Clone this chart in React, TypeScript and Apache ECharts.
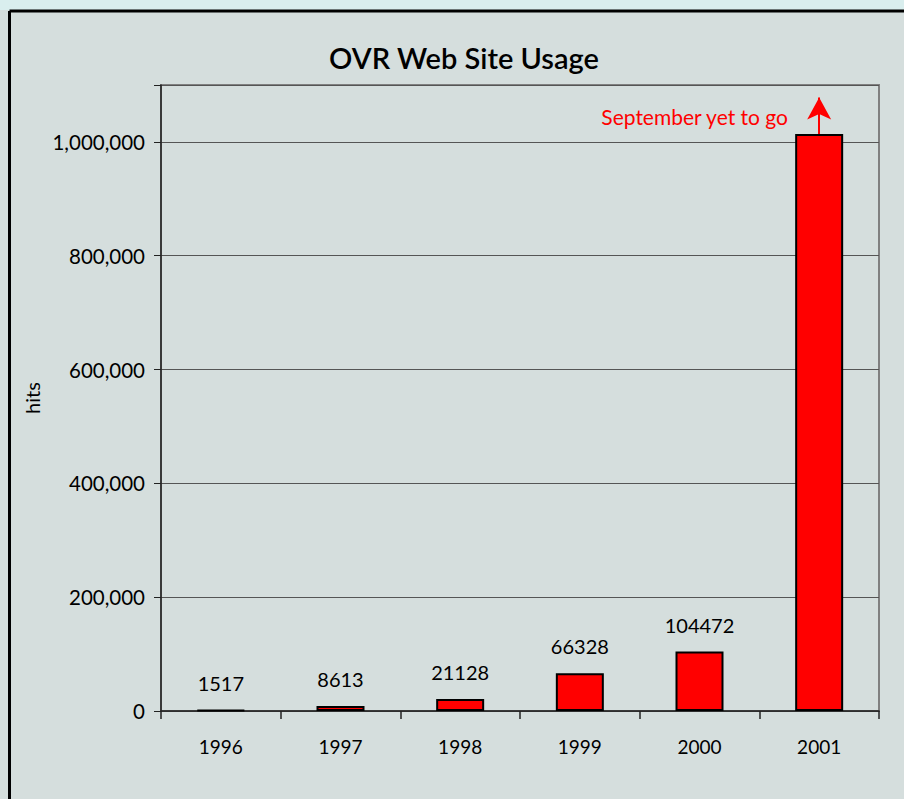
import React, { useEffect, useRef } from "react";
import * as echarts from "echarts";

const categories = ["1996", "1997", "1998", "1999", "2000", "2001"];
const hits = [1517, 8613, 21128, 66328, 104472, 1014000];
const showLabel = [true, true, true, true, true, false];
const yTicks = [0, 200000, 400000, 600000, 800000, 1000000];
const arrowTop = 1078000;
const FONT = "Lato, 'Open Sans', sans-serif";

export default function App() {
  const ref = useRef<HTMLDivElement>(null);
  useEffect(() => {
    const chart = echarts.init(ref.current!, null, { renderer: "svg" });
    chart.setOption({
      animation: false,
      backgroundColor: "#d5dedd",
      textStyle: { fontFamily: FONT },
      graphic: [
        { type: "rect", shape: { x: 0, y: 0, width: 904, height: 10 }, style: { fill: "#d9eeee" }, silent: true },
        { type: "line", shape: { x1: 9.5, y1: 11, x2: 904, y2: 11 }, style: { stroke: "#000", lineWidth: 3 } },
        { type: "line", shape: { x1: 9.5, y1: 11, x2: 9.5, y2: 799 }, style: { stroke: "#000", lineWidth: 3 } },
        {
          type: "text",
          x: 464,
          y: 57,
          style: { text: "OVR Web Site Usage", font: `600 29px ${FONT}`, fill: "#000", textAlign: "center", textVerticalAlign: "middle" },
        },
        {
          type: "text",
          x: 788,
          y: 116,
          style: { text: "September yet to go", font: `21px ${FONT}`, fill: "#ff0000", textAlign: "right", textVerticalAlign: "middle" },
        },
      ],
      grid: { left: 161, right: 25, top: 85, bottom: 88, show: true, borderColor: "#808080", borderWidth: 2 },
      xAxis: {
        type: "category",
        data: categories,
        axisLine: { lineStyle: { color: "#222", width: 1.5 } },
        axisTick: { show: true, length: 8, lineStyle: { color: "#222", width: 1.5 } },
        axisLabel: { fontSize: 19, color: "#000", margin: 26, fontFamily: FONT },
      },
      yAxis: {
        type: "value",
        min: 0,
        max: 1100000,
        interval: 200000,
        name: "hits",
        nameLocation: "middle",
        nameGap: 115,
        nameTextStyle: { fontSize: 20, color: "#000", fontFamily: FONT },
        axisLine: { show: true, lineStyle: { color: "#222", width: 1.5 } },
        axisTick: { show: true, length: 7, lineStyle: { color: "#222" } },
        splitLine: { show: true, lineStyle: { color: "#555", width: 1 } },
        axisLabel: {
          fontSize: 20.5,
          color: "#000",
          margin: 16,
          fontFamily: FONT,
          formatter: (v: number) => (yTicks.includes(v) ? v.toLocaleString("en-US") : ""),
        },
      },
      series: [
        {
          type: "bar",
          barWidth: 48,
          data: hits.map((v, i) => ({
            value: v,
            label: { show: showLabel[i] },
          })),
          itemStyle: { color: "#ff0000", borderColor: "#000", borderWidth: 2 },
          label: { position: "top", distance: 17, fontSize: 20, color: "#000", fontFamily: FONT },
          markLine: {
            silent: true,
            symbol: ["none", "arrow"],
            symbolSize: [18, 22],
            lineStyle: { color: "#ff0000", width: 2, type: "solid" },
            label: { show: false },
            data: [[{ coord: ["2001", hits[5]] }, { coord: ["2001", arrowTop] }]],
          },
        },
      ],
    });
    return () => chart.dispose();
  }, []);
  return <div ref={ref} style={{ position: "fixed", left: 0, top: 0, width: 904, height: 799 }} />;
}
